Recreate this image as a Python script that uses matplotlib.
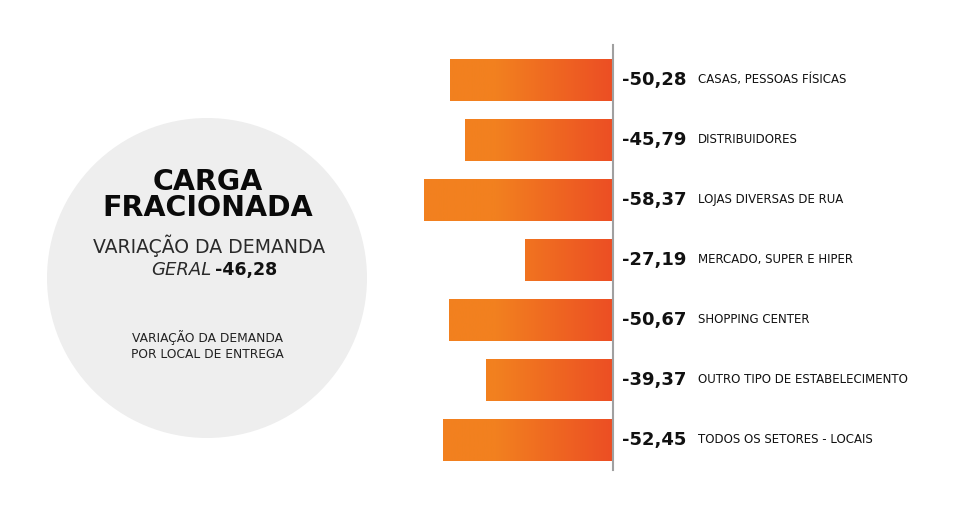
import matplotlib
matplotlib.use("Agg")
import matplotlib.pyplot as plt
import numpy as np
from matplotlib.patches import Circle
from matplotlib.colors import LinearSegmentedColormap

categories = ["CASAS, PESSOAS FÍSICAS", "DISTRIBUIDORES", "LOJAS DIVERSAS DE RUA",
              "MERCADO, SUPER E HIPER", "SHOPPING CENTER",
              "OUTRO TIPO DE ESTABELECIMENTO", "TODOS OS SETORES - LOCAIS"]
values = [-50.28, -45.79, -58.37, -27.19, -50.67, -39.37, -52.45]
geral = -46.28
title_lines = ["CARGA", "FRACIONADA"]

def fmt(v):
    return f"{v:.2f}".replace(".", ",")

W, H = 959, 520
fig = plt.figure(figsize=(W / 100, H / 100), dpi=100)
fig.patch.set_facecolor("white")

# background / decoration axes in pixel coordinates
bg = fig.add_axes([0, 0, 1, 1])
bg.set_xlim(0, W)
bg.set_ylim(H, 0)
bg.axis("off")
bg.add_patch(Circle((207, 278), 160, facecolor="#EEEEEE", edgecolor="none"))

bg.text(208, 182, title_lines[0], ha="center", va="center", fontsize=20.5,
        fontweight="heavy", color="#0A0A0A", family="DejaVu Sans")
bg.text(208, 208, title_lines[1], ha="center", va="center", fontsize=20.5,
        fontweight="heavy", color="#0A0A0A", family="DejaVu Sans")
bg.text(209, 246, "VARIAÇÃO DA DEMANDA", ha="center", va="center", fontsize=13.6,
        color="#2A2A2A", family="DejaVu Sans")
bg.text(211, 270, "GERAL", ha="right", va="center", fontsize=13, style="italic",
        color="#2A2A2A", family="DejaVu Sans")
bg.text(215, 270, fmt(geral), ha="left", va="center", fontsize=12.5,
        fontweight="bold", color="#111111", family="DejaVu Sans")
bg.text(207, 338, "VARIAÇÃO DA DEMANDA", ha="center", va="center", fontsize=8.8,
        color="#222222", family="DejaVu Sans")
bg.text(207, 354, "POR LOCAL DE ENTREGA", ha="center", va="center", fontsize=8.8,
        color="#222222", family="DejaVu Sans")

# bar axes
left_px, right_px = 380, 613
top_px, bot_px = 45, 470
ax = fig.add_axes([left_px / W, 1 - bot_px / H, (right_px - left_px) / W, (bot_px - top_px) / H])
ax.patch.set_alpha(0)
xmin = -72
ax.set_xlim(xmin, 0)
ax.set_ylim(6.5, -0.583)
y = np.arange(len(values))
bars = ax.barh(y, values, height=0.7, color="#F2811F", edgecolor="none")

cmap = LinearSegmentedColormap.from_list(
    "og", [(0, "#F2811F"), (0.5, "#F2801F"), (1, "#EC4E24")])
grad = np.linspace(0, 1, 256).reshape(1, -1)
for b in bars:
    im = ax.imshow(grad, extent=[xmin, 0, 6.5, -0.583], cmap=cmap,
                   aspect="auto", zorder=2)
    im.set_clip_path(b)

for s in ["left", "top", "bottom"]:
    ax.spines[s].set_visible(False)
ax.spines["right"].set_color("#A0A0A0")
ax.spines["right"].set_linewidth(1.5)
ax.set_xticks([])
ax.set_yticks([])

for i, (v, c) in enumerate(zip(values, categories)):
    yy = top_px + (i + 0.583) * (bot_px - top_px) / 7.083
    bg.text(622, yy, fmt(v), ha="left", va="center", fontsize=13,
            fontweight="heavy", color="#111111", family="DejaVu Sans")
    bg.text(698, yy, c, ha="left", va="center", fontsize=8.5,
            color="#111111", family="DejaVu Sans")

fig.savefig("out.png", dpi=100, facecolor="white")
